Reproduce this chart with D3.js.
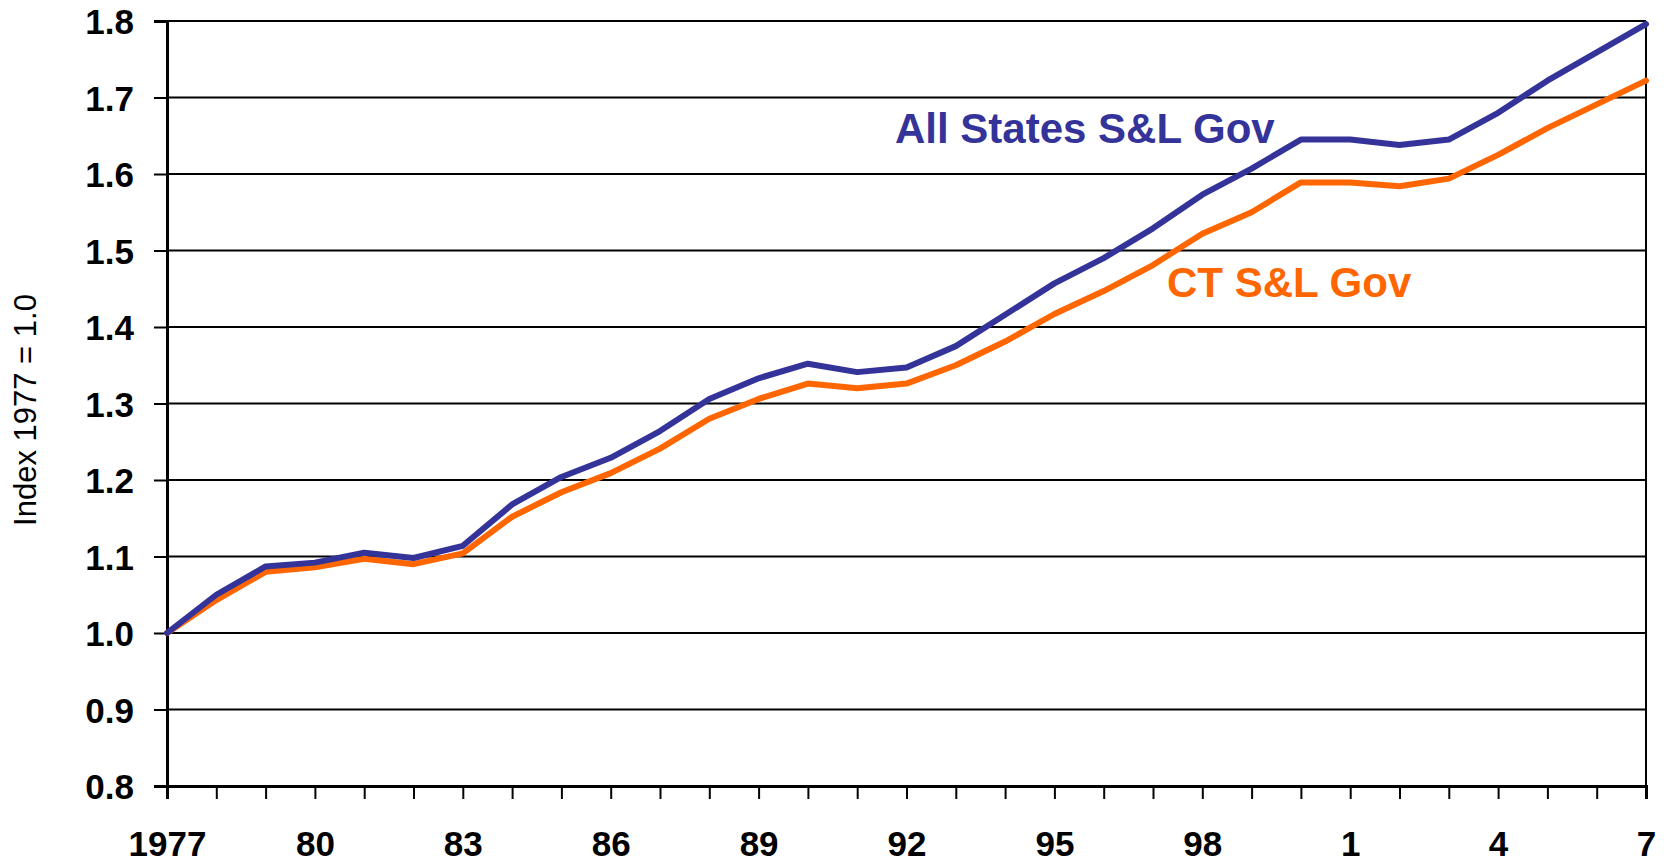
<!DOCTYPE html>
<html>
<head>
<meta charset="utf-8">
<script src="https://cdn.jsdelivr.net/npm/d3@7"></script>
<style>
  html, body { margin: 0; padding: 0; background: #fff; }
  svg { display: block; }
</style>
</head>
<body>
<svg id="chart" width="1664" height="862"></svg>
<script>
const years = d3.range(1977, 2008);
const allStates = [1.000, 1.050, 1.087, 1.092, 1.105, 1.098, 1.114, 1.168, 1.204, 1.229,
  1.264, 1.306, 1.333, 1.352, 1.341, 1.347, 1.375, 1.416, 1.457, 1.490, 1.529, 1.573,
  1.607, 1.645, 1.645, 1.638, 1.645, 1.680, 1.722, 1.759, 1.796];
const ctSL = [1.000, 1.043, 1.080, 1.086, 1.097, 1.090, 1.104, 1.152, 1.184, 1.209,
  1.241, 1.280, 1.306, 1.326, 1.320, 1.326, 1.350, 1.381, 1.417, 1.447, 1.481, 1.522,
  1.550, 1.589, 1.589, 1.584, 1.594, 1.625, 1.660, 1.691, 1.722];
const yTicks = [0.8, 0.9, 1.0, 1.1, 1.2, 1.3, 1.4, 1.5, 1.6, 1.7, 1.8];
const xTickLabels = ["1977", "80", "83", "86", "89", "92", "95", "98", "1", "4", "7"];
const seriesNames = ["All States S&L Gov", "CT S&L Gov"];
const yTitle = "Index 1977 = 1.0";

(function () {
const svg = d3.select("#chart");
const mLeft = 167, mRight = 1646, mTop = 21, mBottom = 786;
const x = d3.scaleLinear().domain([1977, 2007]).range([mLeft, mRight]);
const y = d3.scaleLinear().domain([0.8, 1.8]).range([mBottom, mTop]);
const font = "'Liberation Sans', Arial, sans-serif";

// gridlines
svg.append("g").selectAll("line").data(yTicks).join("line")
  .attr("x1", mLeft).attr("x2", mRight)
  .attr("y1", d => y(d)).attr("y2", d => y(d))
  .attr("stroke", "#000").attr("stroke-width", 2);

// right border
svg.append("line").attr("x1", mRight).attr("x2", mRight).attr("y1", mTop).attr("y2", mBottom)
  .attr("stroke", "#000").attr("stroke-width", 2);

// y axis
const yAxis = d3.axisLeft(y).tickValues(yTicks).tickSize(13).tickPadding(20)
  .tickFormat(d3.format(".1f"));
const gy = svg.append("g").attr("transform", `translate(${mLeft},0)`).call(yAxis);
gy.select(".domain").attr("stroke", "#000").attr("stroke-width", 3);
gy.selectAll(".tick line").attr("stroke", "#000").attr("stroke-width", 2);
gy.selectAll(".tick text").attr("font-family", font).attr("font-weight", "bold")
  .attr("font-size", 35).attr("fill", "#000").attr("dy", "0.36em");

// x axis
const xAxis = d3.axisBottom(x).tickValues(years).tickSize(13).tickPadding(0)
  .tickFormat((d, i) => (i % 3 === 0 ? xTickLabels[i / 3] : ""));
const gx = svg.append("g").attr("transform", `translate(0,${mBottom})`).call(xAxis);
gx.select(".domain").attr("stroke", "#000").attr("stroke-width", 3);
gx.selectAll(".tick line").attr("stroke", "#000").attr("stroke-width", 2);
gx.selectAll(".tick text").attr("font-family", font).attr("font-weight", "bold")
  .attr("font-size", 35).attr("fill", "#000").attr("y", 70).attr("dy", 0);

// y title
svg.append("text")
  .attr("transform", `translate(36,410) rotate(-90)`)
  .attr("text-anchor", "middle")
  .attr("font-family", font).attr("font-size", 31).attr("fill", "#000")
  .text(yTitle);

// lines
const line = d3.line().x((d, i) => x(years[i])).y(d => y(d));
svg.append("path").datum(ctSL).attr("d", line)
  .attr("fill", "none").attr("stroke", "#FF6600").attr("stroke-width", 6)
  .attr("stroke-linejoin", "round").attr("stroke-linecap", "round");
svg.append("path").datum(allStates).attr("d", line)
  .attr("fill", "none").attr("stroke", "#333399").attr("stroke-width", 6)
  .attr("stroke-linejoin", "round").attr("stroke-linecap", "round");

// labels
svg.append("text").attr("x", 895).attr("y", 143)
  .attr("font-family", font).attr("font-weight", "bold").attr("font-size", 42)
  .attr("fill", "#333399").text(seriesNames[0]);
svg.append("text").attr("x", 1167).attr("y", 297)
  .attr("font-family", font).attr("font-weight", "bold").attr("font-size", 42)
  .attr("fill", "#FF6600").text(seriesNames[1]);
})();
</script>
</body>
</html>
